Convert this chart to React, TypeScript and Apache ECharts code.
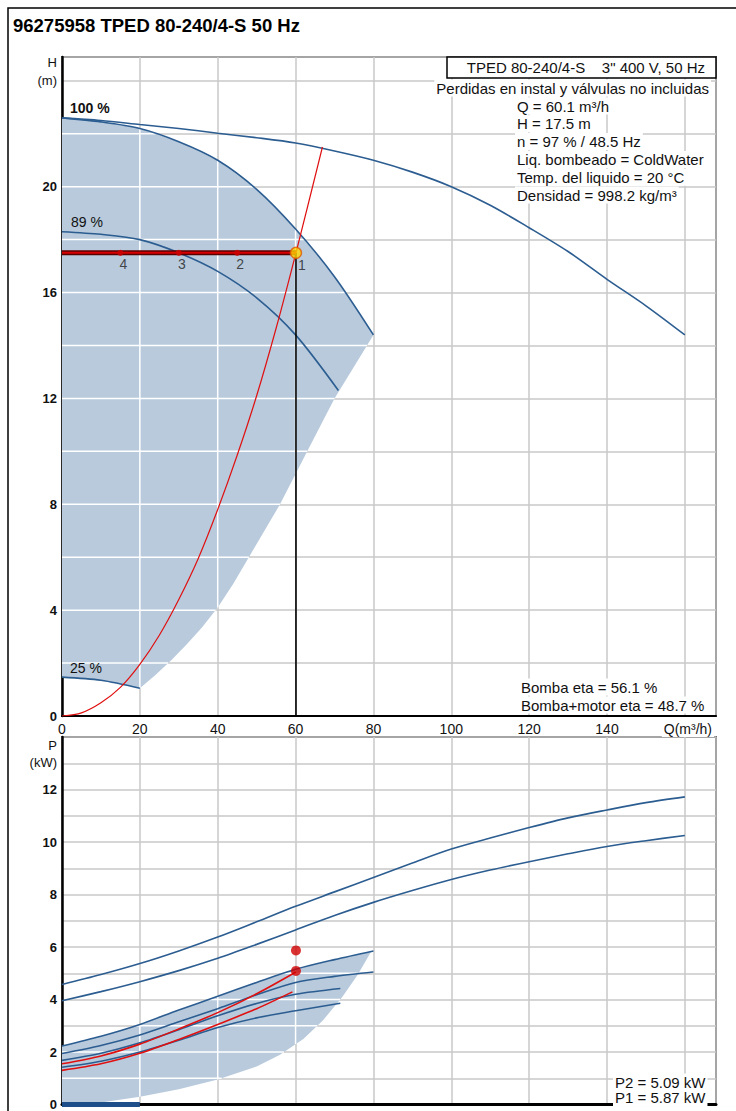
import React, { useEffect, useRef } from "react";
import * as echarts from "echarts";

// ---------------- data ----------------
const titleText = "96275958 TPED 80-240/4-S 50 Hz";
const pumpBoxText = 'TPED 80-240/4-S    3" 400 V, 50 Hz';
const lossText = "Perdidas en instal y válvulas no incluidas";
const infoLines = [
  "Q = 60.1 m³/h",
  "H = 17.5 m",
  "n = 97 % / 48.5 Hz",
  "Liq. bombeado = ColdWater",
  "Temp. del liquido = 20 °C",
  "Densidad = 998.2 kg/m³",
];
const etaLines = ["Bomba eta = 56.1 %", "Bomba+motor eta = 48.7 %"];
const powerLines = ["P2 = 5.09 kW", "P1 = 5.87 kW"];
const curveLabels = ["100 %", "89 %", "25 %"];

// Q axis (m³/h)
const qMax = 168;
const qStep = 20;
const qLastTick = 160;
const qUnitLabel = "Q(m³/h)";
// H axis (m)
const hMax = 24.9;
const hStep = 2;
const hLabelStep = 4;
const hLabelMax = 20;
// P axis (kW)
const pMax = 14;
const pStep = 1;
const pLabelStep = 2;
const pLabelMax = 12;

// head curves [Q, H]
const headMaxCurve = [[0, 22.6], [10, 22.5], [20, 22.35], [30, 22.2], [40, 22.02], [50, 21.85], [60, 21.65], [70, 21.35], [80, 21.0], [90, 20.55], [100, 20.0], [110, 19.3], [120, 18.45], [130, 17.55], [140, 16.5], [150, 15.5], [160, 14.4]];
const head100 = [[0, 22.6], [10, 22.45], [20, 22.2], [30, 21.7], [40, 21.0], [50, 19.9], [60, 18.4], [70, 16.6], [80, 14.4]];
const head89 = [[0, 18.3], [10, 18.2], [20, 18.0], [30, 17.5], [40, 16.8], [50, 15.8], [60, 14.4], [71, 12.3]];
const head25 = [[0, 1.47], [10, 1.35], [20, 1.05]];
const headRangeRight = [[80, 14.4], [70, 12.0], [63, 10], [56, 8], [48, 6], [44, 5.0], [40, 4.1], [36, 3.35], [32, 2.7], [28, 2.1], [24, 1.55], [20, 1.05]];
const systemCurve = [[0, 0], [5, 0.12], [10, 0.5], [15, 1.08], [20, 1.95], [25, 3.05], [30, 4.4], [35, 5.95], [40, 7.8], [45, 9.85], [50, 12.1], [55, 14.65], [60.1, 17.5], [66.9, 21.5]];
const dutyQ = 60.1;
const dutyH = 17.5;
const dutyMarksQ = [15, 30, 45];
const dutyMarkLabels = ["4", "3", "2"];
const dutyPointLabel = "1";

// power curves [Q, P]
const powerA = [[0, 4.57], [10, 4.95], [20, 5.37], [30, 5.85], [40, 6.38], [50, 6.96], [60, 7.55], [70, 8.1], [80, 8.65], [90, 9.2], [100, 9.73], [110, 10.15], [120, 10.55], [130, 10.92], [140, 11.22], [150, 11.5], [160, 11.72]];
const powerB = [[0, 3.95], [10, 4.3], [20, 4.68], [30, 5.1], [40, 5.57], [50, 6.1], [60, 6.65], [70, 7.2], [80, 7.7], [90, 8.15], [100, 8.57], [110, 8.93], [120, 9.25], [130, 9.55], [140, 9.83], [150, 10.05], [160, 10.25]];
const powerC = [[0, 2.23], [10, 2.6], [20, 3.05], [30, 3.6], [40, 4.12], [50, 4.65], [60, 5.15], [70, 5.52], [80, 5.85]];
const powerD = [[0, 1.94], [10, 2.25], [20, 2.65], [30, 3.15], [40, 3.65], [50, 4.18], [60, 4.65], [70, 4.88], [80, 5.05]];
const powerE = [[0, 1.68], [10, 1.95], [20, 2.35], [30, 2.85], [40, 3.38], [50, 3.85], [60, 4.2], [71.5, 4.42]];
const powerF = [[0, 1.42], [10, 1.65], [20, 2.0], [30, 2.45], [40, 2.93], [50, 3.3], [60, 3.57], [71.5, 3.86]];
const powerRed1 = [[0, 1.55], [10, 1.85], [20, 2.3], [30, 2.88], [40, 3.5], [50, 4.22], [60.1, 5.05]];
const powerRed2 = [[0, 1.3], [10, 1.55], [20, 1.95], [30, 2.48], [40, 3.05], [50, 3.65], [59.2, 4.29]];
const powerRangeLower = [[79.5, 5.85], [76, 4.95], [72, 4.1], [67, 3.2], [62, 2.5], [56, 1.9], [50, 1.45], [40, 0.95], [30, 0.58], [20, 0.3], [10, 0.08], [0, 0]];
const dutyP2 = 5.09;
const dutyP1 = 5.87;
const speedBar = [[0, 0], [20, 0]];

// ---------------- styles ----------------
const FONT = '"Liberation Sans", Arial, sans-serif';
const BLUE = "#2c5d91";
const FILL = "#b8cadc";
const GRID = "#c9c9c9";
const RED = "#e01010";

function spans(poly: number[][], k: number, v: number): number[] {
  const o = 1 - k;
  const res: number[] = [];
  for (let i = 0; i < poly.length; i++) {
    const a = poly[i];
    const b = poly[(i + 1) % poly.length];
    if ((a[k] <= v && b[k] > v) || (b[k] <= v && a[k] > v)) {
      res.push(a[o] + ((v - a[k]) * (b[o] - a[o])) / (b[k] - a[k]));
    }
  }
  return res.sort((p, q) => p - q);
}

function rangeSeries(poly: number[][], idx: number, yStep: number, yMaxV: number) {
  return {
    type: "custom",
    xAxisIndex: idx,
    yAxisIndex: idx,
    data: [[0, 0]],
    silent: true,
    z: 1,
    renderItem: (_params: any, api: any) => {
      const children: any[] = [
        { type: "polygon", shape: { points: poly.map((p) => api.coord(p)) }, style: { fill: FILL } },
      ];
      const addLine = (p1: number[], p2: number[]) => {
        const a = api.coord(p1);
        const b = api.coord(p2);
        children.push({ type: "line", shape: { x1: a[0], y1: a[1], x2: b[0], y2: b[1] }, style: { stroke: "#fff", lineWidth: 1.5 } });
      };
      for (let h = yStep; h < yMaxV; h += yStep) {
        const s = spans(poly, 1, h);
        for (let i = 0; i + 1 < s.length; i += 2) addLine([s[i], h], [s[i + 1], h]);
      }
      for (let q = qStep; q < qMax; q += qStep) {
        const s = spans(poly, 0, q);
        for (let i = 0; i + 1 < s.length; i += 2) addLine([q, s[i]], [q, s[i + 1]]);
      }
      return { type: "group", children };
    },
  };
}

function curve(data: number[][], idx: number, color = BLUE, width = 1.6, z = 3) {
  return {
    type: "line",
    xAxisIndex: idx,
    yAxisIndex: idx,
    data,
    showSymbol: false,
    smooth: 0.3,
    silent: true,
    z,
    lineStyle: { color, width },
  };
}

function txt(text: string, x: number, y: number, opts: any = {}) {
  return {
    type: "text",
    z: 100,
    x,
    y,
    style: {
      text,
      font: opts.font || `15px ${FONT}`,
      fill: opts.fill || "#111",
      align: opts.align || "left",
      textAlign: opts.align || "left",
      verticalAlign: "middle",
      textVerticalAlign: "middle",
      backgroundColor: opts.bg,
      padding: opts.bg ? [1, 2, 1, 2] : undefined,
    },
  };
}

export default function App() {
  const ref = useRef<HTMLDivElement>(null);
  useEffect(() => {
    if (!ref.current) return;
    const chart = echarts.init(ref.current, undefined, { renderer: "svg" });

    const headPoly = [...head100, ...headRangeRight.slice(1), ...head25.slice().reverse().slice(1)];
    const powerPoly = [...powerC, ...powerRangeLower];

    const xAxisBase = {
      type: "value",
      min: 0,
      max: qMax,
      interval: qStep,
      axisTick: { show: false },
      splitLine: { show: true, lineStyle: { color: GRID, width: 1.5 } },
    };

    const graphic: any[] = [
      { type: "rect", z: 100, shape: { x: 8, y: 8, width: 760, height: 1130 }, style: { fill: "none", stroke: "#000", lineWidth: 1.5 } },
      txt(titleText, 13, 25, { font: `bold 18.5px ${FONT}`, fill: "#000" }),
      txt("H", 57, 62, { font: `13px ${FONT}`, align: "right" }),
      txt("(m)", 57, 80, { font: `13px ${FONT}`, align: "right" }),
      txt("P", 57, 745, { font: `13px ${FONT}`, align: "right" }),
      txt("(kW)", 57, 762, { font: `13px ${FONT}`, align: "right" }),
      { type: "rect", z: 100, shape: { x: 447, y: 57, width: 269, height: 21 }, style: { fill: "#fff", stroke: "#000", lineWidth: 1.5 } },
      txt(pumpBoxText, 705, 67, { align: "right" }),
      txt(lossText, 711, 88, { align: "right", bg: "#fff" }),
      ...infoLines.map((t, i) => txt(t, 515, 106 + i * 17.8, { bg: "#fff" })),
      ...etaLines.map((t, i) => txt(t, 519, 687 + i * 18, { bg: "#fff" })),
      ...powerLines.map((t, i) => txt(t, 613, 1082 + i * 15.5, { bg: "#fff" })),
      txt(qUnitLabel, 714, 729, { font: `14px ${FONT}`, align: "right", bg: "#fff" }),
      txt(curveLabels[0], 70, 108, { font: `bold 14px ${FONT}` }),
      txt(curveLabels[1], 71, 222, { font: `14px ${FONT}` }),
      txt(curveLabels[2], 70, 668, { font: `14px ${FONT}` }),
    ];

    const option: any = {
      animation: false,
      backgroundColor: "#fff",
      textStyle: { fontFamily: FONT },
      graphic,
      grid: [
        { left: 62, top: 57, width: 654, height: 659, show: true, borderColor: "#000", borderWidth: 1.5, backgroundColor: "transparent" },
        { left: 62, top: 737, width: 654, height: 371, show: true, borderColor: "#000", borderWidth: 1.5, backgroundColor: "transparent" },
      ],
      xAxis: [
        {
          ...xAxisBase,
          gridIndex: 0,
          axisLine: { show: true, onZero: false, lineStyle: { color: "#000", width: 2 } },
          axisLabel: {
            fontSize: 14,
            color: "#111",
            margin: 6,
            formatter: (v: number) => (v < qLastTick ? String(v) : ""),
          },
        },
        {
          ...xAxisBase,
          gridIndex: 1,
          axisLine: { show: true, onZero: false, lineStyle: { color: "#000", width: 3 } },
          axisLabel: { show: false },
        },
      ],
      yAxis: [
        {
          type: "value",
          gridIndex: 0,
          min: 0,
          max: hMax,
          interval: hStep,
          axisLine: { show: true, onZero: false, lineStyle: { color: "#000", width: 2.5 } },
          axisTick: { show: false },
          splitLine: { show: true, lineStyle: { color: GRID, width: 1.5 } },
          axisLabel: {
            fontSize: 13,
            fontWeight: "bold",
            color: "#111",
            margin: 5,
            showMaxLabel: false,
            formatter: (v: number) => (v % hLabelStep === 0 && v <= hLabelMax ? String(v) : ""),
          },
        },
        {
          type: "value",
          gridIndex: 1,
          min: 0,
          max: pMax,
          interval: pStep,
          axisLine: { show: true, onZero: false, lineStyle: { color: "#000", width: 2.5 } },
          axisTick: { show: false },
          splitLine: { show: true, lineStyle: { color: GRID, width: 1.5 } },
          axisLabel: {
            fontSize: 13,
            fontWeight: "bold",
            color: "#111",
            margin: 5,
            showMaxLabel: false,
            formatter: (v: number) => (v % pLabelStep === 0 && v <= pLabelMax ? String(v) : ""),
          },
        },
      ],
      series: [
        rangeSeries(headPoly, 0, hStep, hMax),
        curve(headMaxCurve, 0),
        curve(head100, 0),
        curve(head89, 0),
        curve(head25, 0),
        curve(systemCurve, 0, RED, 1.2, 4),
        {
          type: "line",
          xAxisIndex: 0,
          yAxisIndex: 0,
          data: [[dutyQ, dutyH], [dutyQ, 0]],
          showSymbol: false,
          silent: true,
          z: 4,
          lineStyle: { color: "#000", width: 1.6 },
        },
        {
          type: "line",
          xAxisIndex: 0,
          yAxisIndex: 0,
          data: [[0, dutyH], [dutyQ, dutyH]],
          showSymbol: false,
          silent: true,
          z: 5,
          lineStyle: { color: "#5a0000", width: 5 },
        },
        {
          type: "line",
          xAxisIndex: 0,
          yAxisIndex: 0,
          data: [[0, dutyH], [dutyQ, dutyH]],
          showSymbol: false,
          silent: true,
          z: 6,
          lineStyle: { color: "#d80000", width: 2 },
        },
        {
          type: "scatter",
          xAxisIndex: 0,
          yAxisIndex: 0,
          data: dutyMarksQ.map((q) => [q, dutyH]),
          symbolSize: 6,
          silent: true,
          z: 7,
          itemStyle: { color: "#d00000" },
          label: {
            show: true,
            position: "bottom",
            distance: 1,
            offset: [3, 0],
            fontSize: 14,
            color: "#222",
            formatter: (p: any) => dutyMarkLabels[p.dataIndex],
          },
        },
        {
          type: "scatter",
          xAxisIndex: 0,
          yAxisIndex: 0,
          data: [[dutyQ, dutyH]],
          symbolSize: 11,
          silent: true,
          z: 8,
          itemStyle: { color: "#ffd400", borderColor: "#e05a00", borderWidth: 1.5 },
          label: {
            show: true,
            position: "bottom",
            distance: -1,
            offset: [6, 0],
            fontSize: 14,
            color: "#222",
            formatter: dutyPointLabel,
          },
        },
        rangeSeries(powerPoly, 1, pStep, pMax),
        curve(powerA, 1),
        curve(powerB, 1),
        curve(powerC, 1),
        curve(powerD, 1),
        curve(powerE, 1),
        curve(powerF, 1),
        curve(powerRed1, 1, RED, 1.6, 4),
        curve(powerRed2, 1, RED, 1.6, 4),
        {
          type: "scatter",
          xAxisIndex: 1,
          yAxisIndex: 1,
          data: [[dutyQ, dutyP1], [dutyQ, dutyP2]],
          symbolSize: 10,
          silent: true,
          z: 8,
          itemStyle: { color: "#d00000" },
        },
        {
          type: "line",
          xAxisIndex: 1,
          yAxisIndex: 1,
          data: speedBar,
          showSymbol: false,
          silent: true,
          z: 9,
          lineStyle: { color: "#1f4f8a", width: 5 },
        },
      ],
    };

    chart.setOption(option);
    return () => chart.dispose();
  }, []);

  return (
    <div
      ref={ref}
      style={{ position: "fixed", left: 0, top: 0, width: 736, height: 1111, background: "#fff" }}
    />
  );
}
